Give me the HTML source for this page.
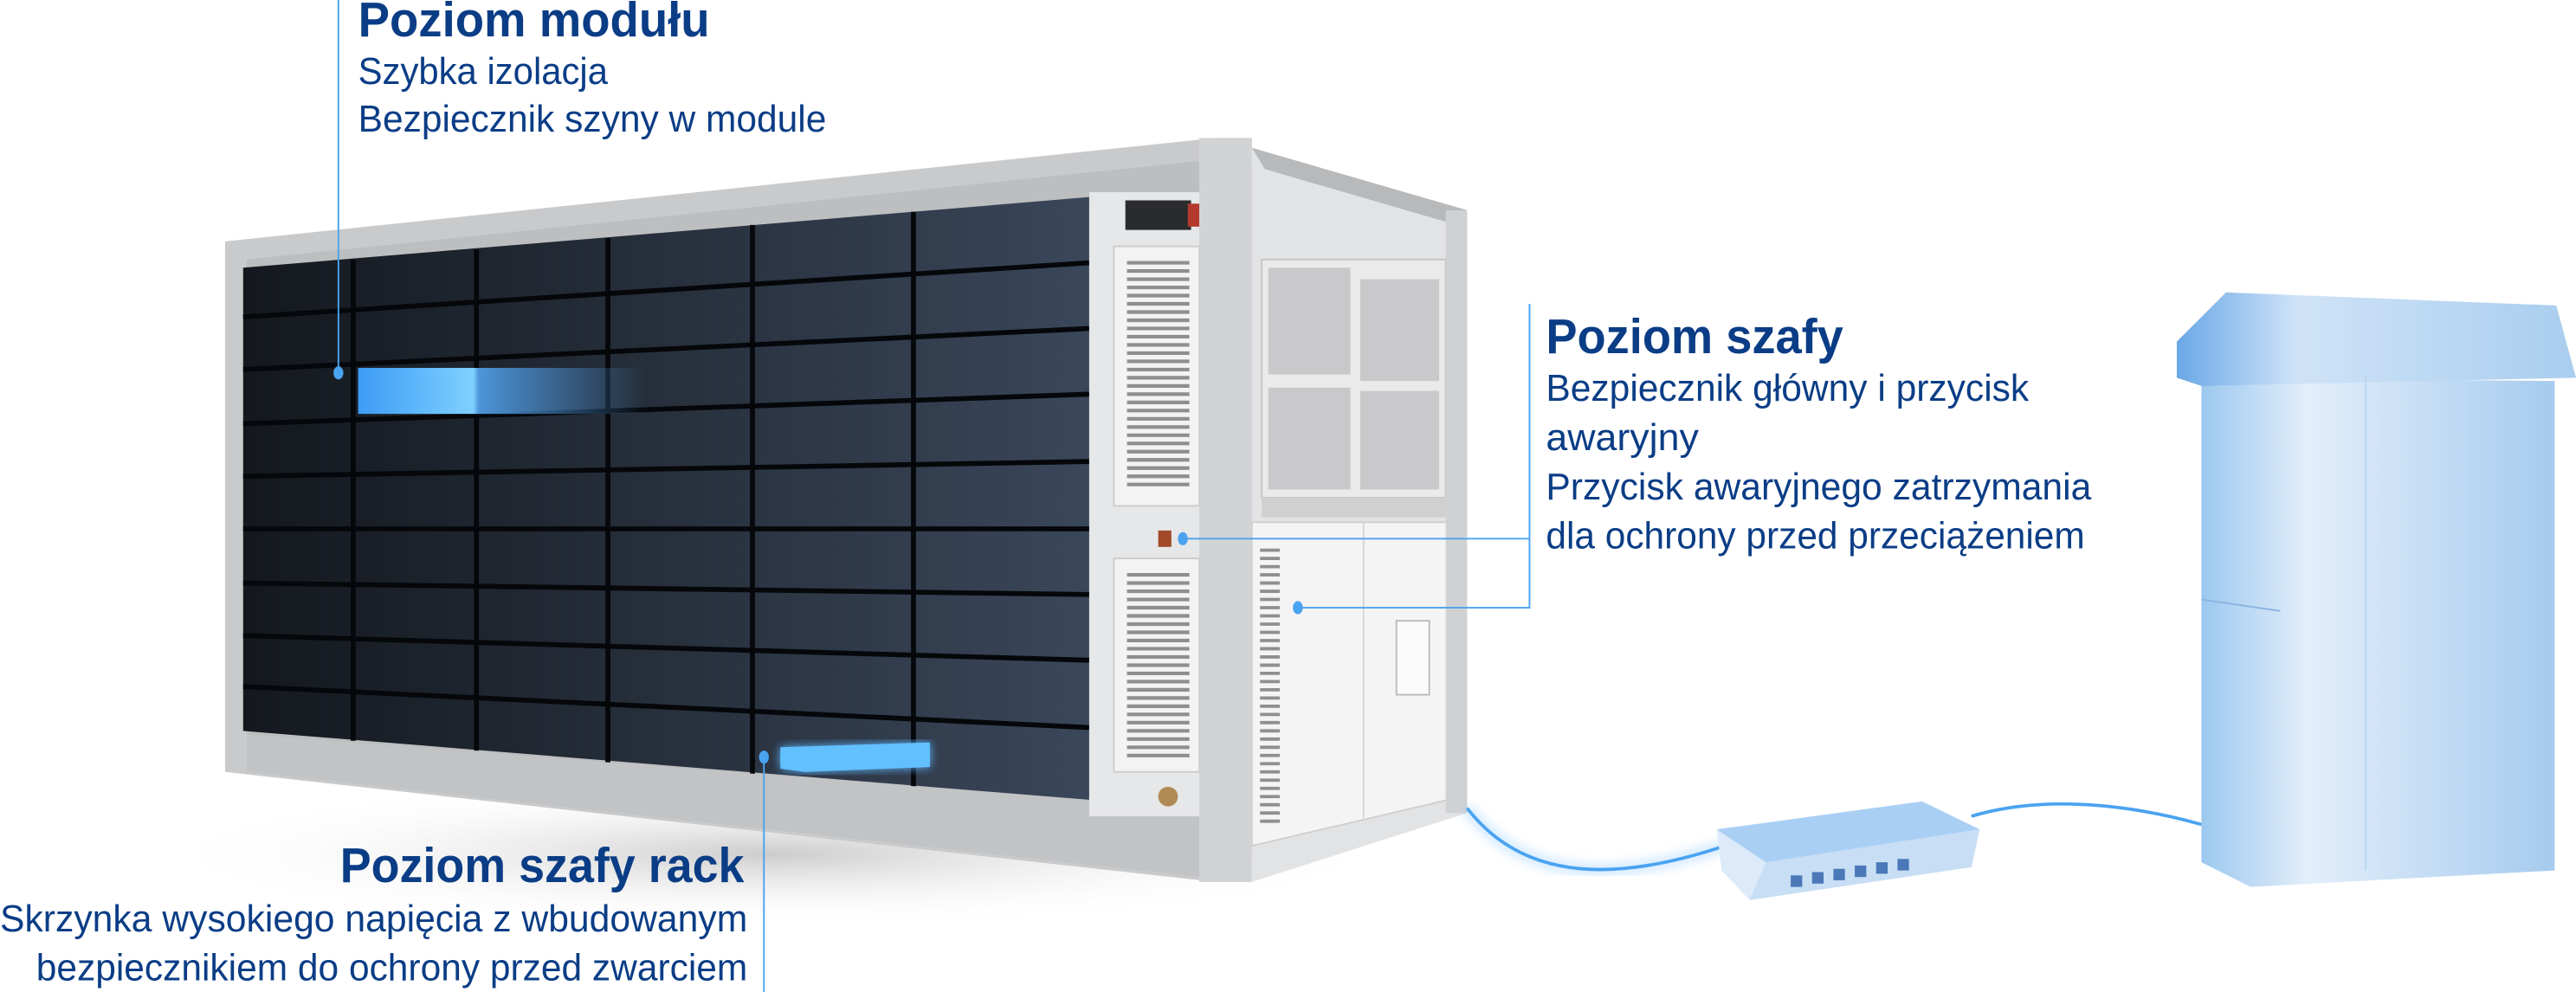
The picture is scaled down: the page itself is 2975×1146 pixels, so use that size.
<!DOCTYPE html>
<html><head><meta charset="utf-8"><style>
html,body{margin:0;padding:0;background:#fff;}
svg{display:block;}
text{font-family:"Liberation Sans",sans-serif;fill:#0b3d86;}
.t{font-weight:bold;font-size:30px;}
.b{font-size:23px;}
</style></head><body>
<svg width="2975" height="1146" viewBox="0 0 1568 604" preserveAspectRatio="none" xmlns="http://www.w3.org/2000/svg">
<defs>
<linearGradient id="face" x1="0" y1="0" x2="1" y2="0">
<stop offset="0" stop-color="#14181e"/><stop offset="1" stop-color="#3a475a"/></linearGradient>
<linearGradient id="glow" x1="0" y1="0" x2="1" y2="0">
<stop offset="0" stop-color="#3d9cf5"/><stop offset="0.4" stop-color="#7fd0ff"/><stop offset="0.42" stop-color="#4d95d9"/><stop offset="1" stop-color="#4d95d9" stop-opacity="0"/></linearGradient>
<linearGradient id="cab" x1="0" y1="0" x2="1" y2="0">
<stop offset="0" stop-color="#9cc8ef"/><stop offset="0.3" stop-color="#e3eefa"/><stop offset="1" stop-color="#a6cbee"/></linearGradient>
<linearGradient id="cabtop" x1="0" y1="0" x2="1" y2="0">
<stop offset="0" stop-color="#6aa8e6"/><stop offset="0.3" stop-color="#cfe3f7"/><stop offset="1" stop-color="#a9cdee"/></linearGradient>
<radialGradient id="shadow" cx="0.5" cy="0.5" r="0.5"><stop offset="0" stop-color="#999" stop-opacity="0.5"/><stop offset="1" stop-color="#fff" stop-opacity="0"/></radialGradient>
<filter id="bl"><feGaussianBlur stdDeviation="3"/></filter>
</defs>
<ellipse cx="470" cy="520" rx="380" ry="45" fill="url(#shadow)"/>
<polygon points="137,147 740,84 762,84 762,537 740,537 137,470" fill="#c9cacc"/>
<polygon points="150,158 740,97 740,520 150,447" fill="#bdbec0"/>
<polygon points="148,163 663,120 663,487 148,445" fill="url(#face)"/>
<g stroke="#05070a" stroke-width="3">
<line x1="148" y1="193" x2="663" y2="160"/><line x1="148" y1="225" x2="663" y2="200"/>
<line x1="148" y1="258" x2="663" y2="240"/><line x1="148" y1="290" x2="663" y2="281"/>
<line x1="148" y1="322" x2="663" y2="322"/><line x1="148" y1="355" x2="663" y2="362"/>
<line x1="148" y1="387" x2="663" y2="402"/><line x1="148" y1="418" x2="663" y2="443"/>
<line x1="215" y1="158" x2="215" y2="451"/><line x1="290" y1="152" x2="290" y2="457"/>
<line x1="370" y1="145" x2="370" y2="465"/><line x1="458" y1="137" x2="458" y2="474"/>
<line x1="556" y1="129" x2="556" y2="482"/>
</g>
<polygon points="150,447 663,487 740,492 740,535 150,470" fill="#c2c3c5"/>
<rect x="218" y="224" width="175" height="28" fill="url(#glow)"/>
<polygon points="475,455 566,452 566,467 490,470 475,468" fill="#5db8ff" filter="url(#bl)"/>
<polygon points="475,455 566,452 566,467 490,470 475,468" fill="#63c0ff"/>
<rect x="663" y="117" width="77" height="380" fill="#e6e7e8"/>
<rect x="685" y="122" width="40" height="18" fill="#2a2b2d"/><rect x="723" y="124" width="7" height="14" fill="#b43a2f"/>
<rect x="678" y="150" width="52" height="158" fill="#f3f3f3" stroke="#ccc"/>
<rect x="678" y="340" width="52" height="130" fill="#f3f3f3" stroke="#ccc"/>
<path d="M686 160h38M686 165h38M686 170h38M686 175h38M686 180h38M686 185h38M686 190h38M686 195h38M686 200h38M686 205h38M686 210h38M686 215h38M686 220h38M686 225h38M686 230h38M686 235h38M686 240h38M686 245h38M686 250h38M686 255h38M686 260h38M686 265h38M686 270h38M686 275h38M686 280h38M686 285h38M686 290h38M686 295h38M686 350h38M686 355h38M686 360h38M686 365h38M686 370h38M686 375h38M686 380h38M686 385h38M686 390h38M686 395h38M686 400h38M686 405h38M686 410h38M686 415h38M686 420h38M686 425h38M686 430h38M686 435h38M686 440h38M686 445h38M686 450h38M686 455h38M686 460h38" stroke="#8e8f91" stroke-width="2.2"/>
<circle cx="711" cy="485" r="6" fill="#b08a55"/>
<rect x="705" y="323" width="8" height="10" fill="#a04a2a"/>
<rect x="730" y="84" width="32" height="453" fill="#d2d3d5"/>
<polygon points="762,90 893,128 893,495 762,537" fill="#e2e3e5"/>
<polygon points="762,90 893,128 880,135 770,103" fill="#b8b9bb"/>
<rect x="768" y="158" width="112" height="145" fill="#eaeaea" stroke="#c5c5c5"/>
<rect x="772" y="163" width="50" height="65" fill="#c9c9cb"/><rect x="828" y="170" width="48" height="62" fill="#c9c9cb"/>
<rect x="772" y="236" width="50" height="62" fill="#c9c9cb"/><rect x="828" y="238" width="48" height="60" fill="#c9c9cb"/>
<rect x="768" y="303" width="112" height="12" fill="#d0d0d0"/>
<polygon points="762,318 890,318 890,485 762,515" fill="#f4f4f4" stroke="#cfcfcf"/>
<line x1="830" y1="318" x2="830" y2="498" stroke="#d5d5d5"/>
<path d="M767 335h12M767 340h12M767 345h12M767 350h12M767 355h12M767 360h12M767 365h12M767 370h12M767 375h12M767 380h12M767 385h12M767 390h12M767 395h12M767 400h12M767 405h12M767 410h12M767 415h12M767 420h12M767 425h12M767 430h12M767 435h12M767 440h12M767 445h12M767 450h12M767 455h12M767 460h12M767 465h12M767 470h12M767 475h12M767 480h12M767 485h12M767 490h12M767 495h12M767 500h12" stroke="#8e8f91" stroke-width="2"/>
<rect x="850" y="378" width="20" height="45" fill="#fafafa" stroke="#bbb"/>
<rect x="880" y="128" width="13" height="367" fill="#d0d1d3"/>
<path d="M893 492 C930 540 990 535 1050 515" stroke="#8cc8ff" stroke-width="8" fill="none" opacity="0.35" filter="url(#bl)"/>
<path d="M893 492 C930 540 990 535 1050 515" stroke="#4aa3f0" stroke-width="2" fill="none"/>
<path d="M1200 497 C1240 485 1290 488 1340 502" stroke="#4aa3f0" stroke-width="2" fill="none"/>
<polygon points="1045,505 1170,488 1205,505 1200,528 1065,548 1048,530" fill="#dceaf9"/>
<polygon points="1045,505 1170,488 1205,505 1075,525" fill="#a9cff5"/>
<polygon points="1075,525 1205,505 1200,528 1065,548" fill="#c8def5"/>
<g fill="#4a78b8"><rect x="1090" y="533" width="7" height="7"/><rect x="1103" y="531" width="7" height="7"/><rect x="1116" y="529" width="7" height="7"/><rect x="1129" y="527" width="7" height="7"/><rect x="1142" y="525" width="7" height="7"/><rect x="1155" y="523" width="7" height="7"/></g>
<polygon points="1340,230 1555,232 1555,530 1370,540 1340,525" fill="url(#cab)"/>
<polygon points="1325,208 1355,178 1556,186 1568,230 1340,235 1325,230" fill="url(#cabtop)"/>
<line x1="1440" y1="228" x2="1440" y2="530" stroke="#b8d4ef"/>
<line x1="1340" y1="365" x2="1388" y2="372" stroke="#8ab4e0"/>
<g stroke="#4aa3f0" stroke-width="1" fill="none">
<line x1="206" y1="0" x2="206" y2="227"/>
<polyline points="720,328 931,328"/><polyline points="790,370 931,370 931,185"/>
<line x1="465" y1="461" x2="465" y2="604"/>
</g>
<g fill="#4aa3f0"><ellipse cx="206" cy="227" rx="3" ry="4"/><ellipse cx="720" cy="328" rx="3" ry="4"/><ellipse cx="790" cy="370" rx="3" ry="4"/><ellipse cx="465" cy="461" rx="3" ry="4"/></g>
<text class="t" x="218" y="22" textLength="214" lengthAdjust="spacingAndGlyphs">Poziom modułu</text>
<text class="b" x="218" y="51" textLength="152" lengthAdjust="spacingAndGlyphs">Szybka izolacja</text>
<text class="b" x="218" y="80" textLength="285" lengthAdjust="spacingAndGlyphs">Bezpiecznik szyny w module</text>
<text class="t" x="941" y="215" textLength="181" lengthAdjust="spacingAndGlyphs">Poziom szafy</text>
<text class="b" x="941" y="244" textLength="294" lengthAdjust="spacingAndGlyphs">Bezpiecznik główny i przycisk</text>
<text class="b" x="941" y="274" textLength="93" lengthAdjust="spacingAndGlyphs">awaryjny</text>
<text class="b" x="941" y="304" textLength="332" lengthAdjust="spacingAndGlyphs">Przycisk awaryjnego zatrzymania</text>
<text class="b" x="941" y="334" textLength="328" lengthAdjust="spacingAndGlyphs">dla ochrony przed przeciążeniem</text>
<text class="t" x="207" y="537" textLength="246" lengthAdjust="spacingAndGlyphs">Poziom szafy rack</text>
<text class="b" x="0" y="567" textLength="455" lengthAdjust="spacingAndGlyphs">Skrzynka wysokiego napięcia z wbudowanym</text>
<text class="b" x="22" y="597" textLength="433" lengthAdjust="spacingAndGlyphs">bezpiecznikiem do ochrony przed zwarciem</text>
</svg>
</body></html>
